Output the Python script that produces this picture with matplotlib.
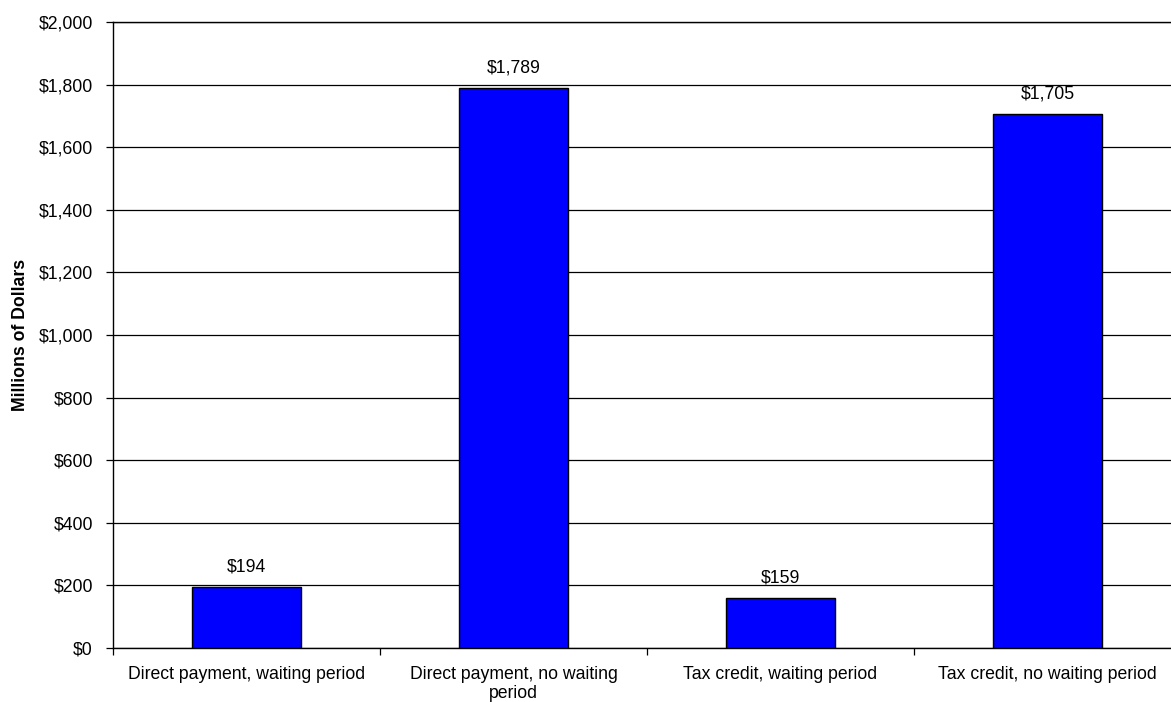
import matplotlib

matplotlib.use("Agg")

import matplotlib.pyplot as plt
import numpy as np
from matplotlib.ticker import FuncFormatter, MultipleLocator

categories = [
    "Direct payment, waiting period",
    "Direct payment, no waiting\nperiod",
    "Tax credit, waiting period",
    "Tax credit, no waiting period",
]
costs = [194, 1789, 159, 1705]

plt.rcParams["font.family"] = ["Liberation Sans", "DejaVu Sans"]
plt.rcParams["font.size"] = 12.7

fig = plt.figure(figsize=(11.71, 7.02), dpi=100)
# right edge of the plot area runs a little past the canvas
ax = fig.add_axes([113 / 1171, 54 / 702, 1068 / 1171, 626 / 702])

x = np.arange(len(categories))
bars = ax.bar(x, costs, width=0.405, color="#0000ff", edgecolor="black", linewidth=1.0, zorder=3)

for rect, val in zip(bars, costs):
    ax.text(rect.get_x() + rect.get_width() / 2, val + 38, f"${val:,}",
            ha="center", va="bottom")

ax.set_xlim(-0.5, len(categories) - 0.5)
ax.set_ylim(0, 2000)
ax.yaxis.set_major_locator(MultipleLocator(200))
ax.yaxis.set_major_formatter(FuncFormatter(lambda v, _: f"${v:,.0f}"))
ax.grid(axis="y", color="black", linewidth=0.9, zorder=0)

ax.set_xticks(x)
ax.set_xticklabels(categories, linespacing=1.12)
ax.tick_params(axis="x", which="major", length=0, pad=13)
ax.set_xticks(np.arange(-0.5, len(categories), 1.0), minor=True)
ax.tick_params(axis="x", which="minor", length=5, width=0.9, direction="out")
ax.tick_params(axis="y", length=5, width=0.9, pad=9.5)

for side in ("left", "bottom", "top"):
    ax.spines[side].set_linewidth(1.0)
ax.spines["right"].set_visible(False)

ax.set_ylabel("Millions of Dollars", fontweight="bold", labelpad=7)

fig.savefig("out.png", dpi=100)
plt.close(fig)
